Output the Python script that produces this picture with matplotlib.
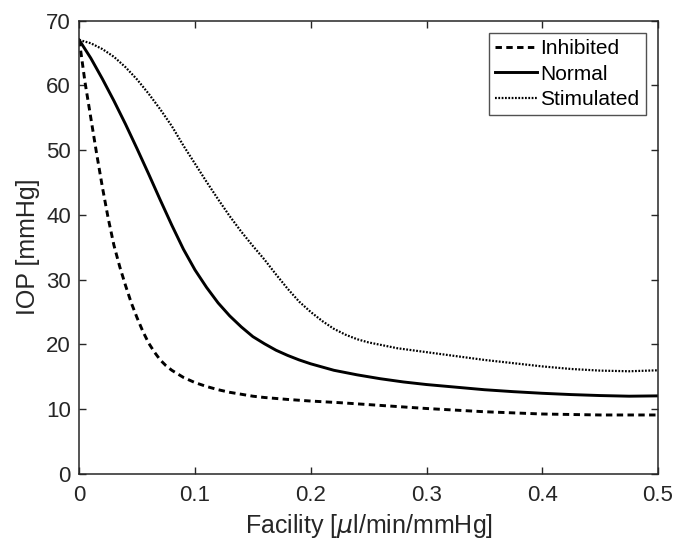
import numpy as np
import matplotlib
matplotlib.use("Agg")
import matplotlib.pyplot as plt

## Values (facility in ul/min/mmHg, IOP in mmHg)
inhibited_x = [0.0, 0.005, 0.01, 0.015, 0.02, 0.025, 0.03, 0.035, 0.04, 0.045,
               0.05, 0.055, 0.06, 0.065, 0.07, 0.075, 0.08, 0.09, 0.10, 0.11,
               0.12, 0.13, 0.14, 0.15, 0.16, 0.18, 0.20, 0.225, 0.25, 0.275,
               0.30, 0.35, 0.40, 0.45, 0.475, 0.50]
inhibited_iop = [67.0, 60.5, 55.0, 49.5, 44.3, 39.5, 35.3, 32.0, 29.1, 26.4,
                 24.1, 22.0, 20.2, 18.8, 17.6, 16.7, 16.0, 14.9, 14.1, 13.5,
                 13.0, 12.6, 12.3, 12.0, 11.8, 11.5, 11.25, 11.0, 10.7, 10.4,
                 10.1, 9.6, 9.25, 9.1, 9.1, 9.1]

normal_x = [0.0, 0.01, 0.02, 0.03, 0.04, 0.05, 0.06, 0.07, 0.08, 0.09,
            0.10, 0.11, 0.12, 0.13, 0.14, 0.15, 0.16, 0.17, 0.18, 0.19,
            0.20, 0.21, 0.22, 0.24, 0.26, 0.28, 0.30, 0.325, 0.35, 0.375,
            0.40, 0.425, 0.45, 0.475, 0.50]
normal_iop = [67.0, 64.2, 61.0, 57.6, 54.0, 50.2, 46.3, 42.3, 38.4, 34.7,
              31.5, 28.8, 26.4, 24.4, 22.7, 21.2, 20.1, 19.1, 18.3, 17.6,
              17.0, 16.5, 16.0, 15.3, 14.7, 14.2, 13.8, 13.4, 13.0, 12.7,
              12.45, 12.25, 12.1, 12.0, 12.05]

stimulated_x = [0.0, 0.01, 0.02, 0.03, 0.04, 0.05, 0.06, 0.07, 0.08, 0.09,
                0.10, 0.11, 0.12, 0.13, 0.14, 0.15, 0.16, 0.17, 0.18, 0.19,
                0.20, 0.21, 0.22, 0.23, 0.24, 0.25, 0.275, 0.30, 0.325, 0.35,
                0.375, 0.40, 0.425, 0.45, 0.475, 0.50]
stimulated_iop = [67.0, 66.5, 65.6, 64.4, 62.8, 60.9, 58.7, 56.3, 53.7, 50.7,
                  47.9, 45.1, 42.4, 39.8, 37.4, 35.2, 33.1, 30.8, 28.6, 26.6,
                  25.0, 23.6, 22.4, 21.5, 20.8, 20.3, 19.4, 18.8, 18.2, 17.6,
                  17.1, 16.6, 16.2, 15.95, 15.85, 16.0]

series_names = ["Inhibited", "Normal", "Stimulated"]
x_ticks = [0, 0.1, 0.2, 0.3, 0.4, 0.5]
x_ticklabels = ["0", "0.1", "0.2", "0.3", "0.4", "0.5"]
y_ticks = [0, 10, 20, 30, 40, 50, 60, 70]

plt.rcParams["font.family"] = ["Liberation Sans", "DejaVu Sans"]
plt.rcParams["mathtext.fontset"] = "dejavusans"

grey = "#262626"

fig = plt.figure(figsize=(6.77, 5.41), dpi=100, facecolor="white")
ax = fig.add_axes([0.117, 0.124, 0.855, 0.838])

ax.plot(inhibited_x, inhibited_iop, c="black", lw=2.1, ls=(0, (2.2, 1.5)),
        label=series_names[0])
ax.plot(normal_x, normal_iop, c="black", lw=2.1, ls="-",
        label=series_names[1])
ax.plot(stimulated_x, stimulated_iop, c="black", lw=1.6, ls=(0, (0.8, 0.7)),
        label=series_names[2])

ax.set_xlim([0, 0.5])
ax.set_ylim([0, 70])
ax.set_xticks(x_ticks)
ax.set_xticklabels(x_ticklabels)
ax.set_yticks(y_ticks)

ax.tick_params(direction="in", top=True, right=True, length=5, width=1.0,
               colors=grey, labelsize=16)
ax.tick_params(axis="x", pad=8)
ax.tick_params(axis="y", pad=6)
for sp in ax.spines.values():
  sp.set_linewidth(1.1)
  sp.set_color(grey)

ax.set_xlabel("Facility [$\\mu$l/min/mmHg]", fontsize=18, color=grey, labelpad=4)
ax.set_ylabel("IOP [mmHg]", fontsize=18, color=grey, labelpad=4)

## Legend box
leg = ax.legend(loc="upper right", fontsize=15, frameon=True, fancybox=False,
                edgecolor=grey, handlelength=2.0, handletextpad=0.15,
                borderpad=0.3, labelspacing=0.3, borderaxespad=0.6)
leg.get_frame().set_linewidth(1.0)

plt.savefig("out.png", dpi=100, facecolor="white")
